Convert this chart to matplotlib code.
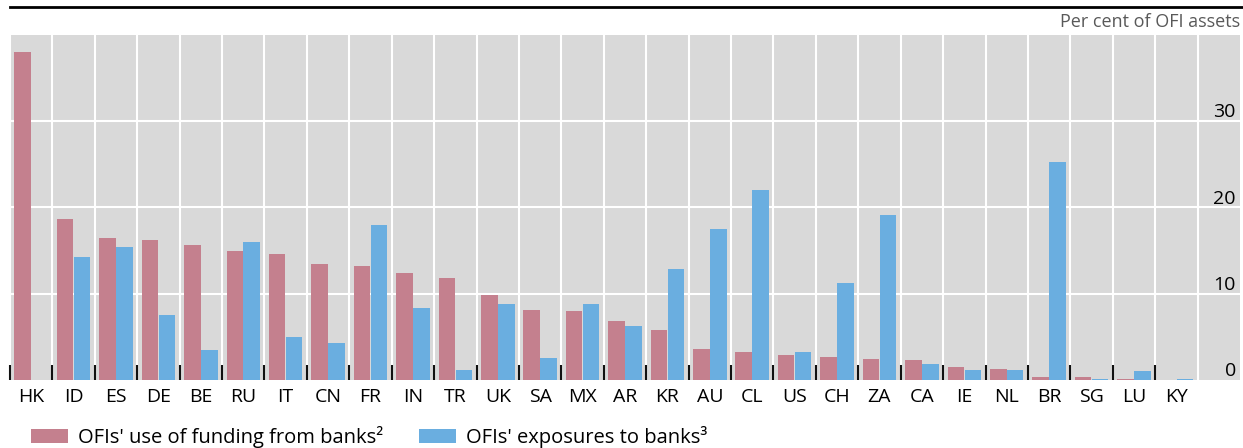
# OFIs' funding from banks vs exposures to banks, by jurisdiction
import matplotlib
matplotlib.use('Agg')
import matplotlib.pyplot as plt
from matplotlib.lines import Line2D
import numpy as np

plt.rcParams['font.family'] = ['Open Sans', 'DejaVu Sans']

# data (per cent of OFI assets)
countries = ['HK', 'ID', 'ES', 'DE', 'BE', 'RU', 'IT', 'CN', 'FR', 'IN',
             'TR', 'UK', 'SA', 'MX', 'AR', 'KR', 'AU', 'CL', 'US', 'CH',
             'ZA', 'CA', 'IE', 'NL', 'BR', 'SG', 'LU', 'KY']
funding = [38.0, 18.7, 16.45, 16.2, 15.6, 15.0, 14.6, 13.45, 13.2, 12.4,
           11.85, 9.9, 8.1, 8.0, 6.8, 5.8, 3.55, 3.2, 2.85, 2.65,
           2.45, 2.3, 1.45, 1.3, 0.35, 0.3, 0.15, 0.0]
exposures = [np.nan, 14.25, 15.4, 7.5, 3.5, 16.0, 5.0, 4.25, 17.95, 8.35,
             1.2, 8.8, 2.55, 8.8, 6.25, 12.9, 17.5, 22.05, 3.2, 11.25,
             19.1, 1.85, 1.15, 1.15, 25.3, 0.1, 1.1, 0.15]
yticks = [0, 10, 20, 30]

red = '#C4808E'
blue = '#6AAEE0'

fig = plt.figure(figsize=(12.43, 4.48), dpi=100)
ax = fig.add_axes([10 / 1243, 68 / 448, 1230 / 1243, 345 / 448])
ax.set_facecolor('#D9D9D9')

x = np.arange(len(countries))
w = 0.39
b1 = ax.bar(x - 0.2, funding, w, color=red, zorder=3,
            label="OFIs' use of funding from banks²")
b2 = ax.bar(x + 0.2, exposures, w, color=blue, zorder=3,
            label="OFIs' exposures to banks³")

ax.set_xlim(-0.5, len(countries) + 0.5)
ax.set_ylim(0, 40)

# category labels at centres, tick marks at boundaries
ax.set_xticks(x)
ax.set_xticklabels(countries, fontsize=14)
ax.tick_params(axis='x', which='major', length=0, pad=6)
ax.set_xticks(np.arange(len(countries)) - 0.5, minor=True)
ax.tick_params(axis='x', which='minor', direction='in', length=11,
               width=1.5, color='#111111')

# grid
for xb in np.arange(len(countries) + 1) - 0.5:
    ax.axvline(xb, color='white', lw=1.5, zorder=1)
for yv in [10, 20, 30]:
    ax.axhline(yv, color='white', lw=1.5, zorder=1)

# y labels inside on the right
ax.yaxis.tick_right()
ax.set_yticks(yticks)
ax.set_yticklabels([str(v) for v in yticks], fontsize=14)
ax.tick_params(axis='y', length=0, pad=-3)
for lab in ax.get_yticklabels():
    lab.set_ha('right')
    lab.set_va('bottom')

for s in ax.spines.values():
    s.set_visible(False)

# top rule and unit label
fig.add_artist(Line2D([10 / 1243, 1.0], [1 - 7 / 448, 1 - 7 / 448],
                      color='black', lw=2))
fig.text(1240 / 1243, 1 - 22 / 448, 'Per cent of OFI assets', ha='right',
         va='center', fontsize=13, color='#595959')

fig.legend(handles=[b1, b2], loc='center left', ncol=2, frameon=False,
           bbox_to_anchor=(31 / 1243, 11 / 448), fontsize=14.5,
           handlelength=1.85, handleheight=0.7, handletextpad=0.5,
           columnspacing=1.75, borderpad=0, borderaxespad=0)

fig.savefig('out.png', dpi=100)
